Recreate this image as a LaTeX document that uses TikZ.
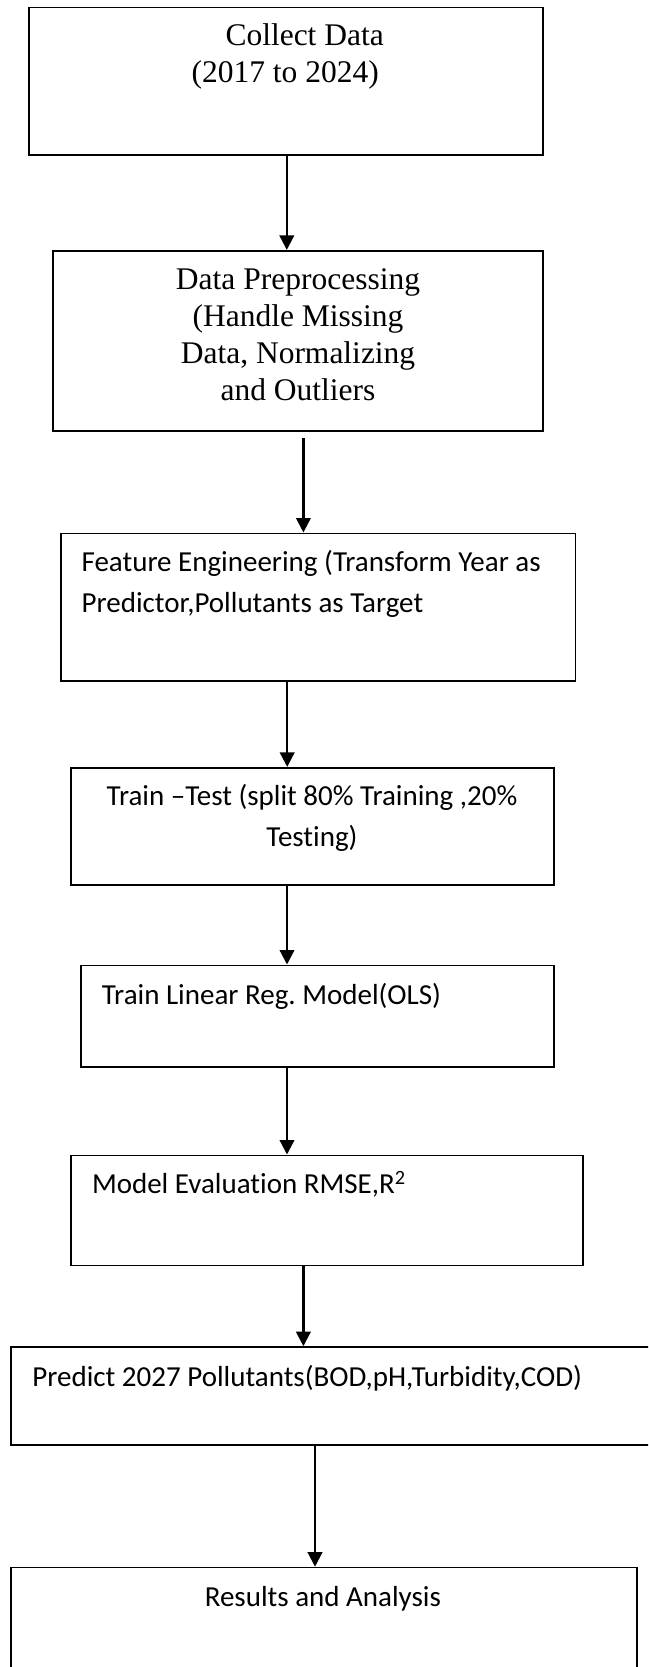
\documentclass[tikz,border=0pt]{standalone}
\usepackage{fontspec}
\setmainfont{Liberation Serif}
\newfontfamily\calib[Ligatures=NoCommon]{Carlito}
\usetikzlibrary{arrows.meta}
\frenchspacing
\tikzset{
  box/.style={draw=black, line width=1.6pt, rectangle, inner sep=0pt},
  arr/.style={draw=black, line width=2.2pt, -{Triangle[width=14.5pt,length=14.5pt]}},
  tms/.style={inner sep=0pt, font=\fontsize{31.5}{37}\selectfont},
  cal/.style={inner sep=0pt, font=\calib\frenchspacing\fontsize{29}{40.5}\selectfont},
}
\begin{document}
\begin{tikzpicture}[x=1pt,y=-1pt]
\useasboundingbox (0,0) rectangle (648,1667);
\clip (0,0) rectangle (648,1667);
\fill[white] (0,0) rectangle (648,1667);
% boxes
\node[box, minimum width=514pt, minimum height=147.5pt] (b1) at (286,81.25) {};
\node[box, minimum width=489.7pt, minimum height=180.3pt] (b2) at (297.85,340.85) {};
\node[box, minimum width=514.5pt, minimum height=147.7pt] (b3) at (318.05,607.15) {};
\node[box, minimum width=483.1pt, minimum height=117.3pt] (b4) at (312.25,826.35) {};
\node[box, minimum width=472.8pt, minimum height=101.7pt] (b5) at (317.4,1016.15) {};
\node[box, minimum width=512.5pt, minimum height=110pt] (b6) at (326.95,1210.3) {};
\node[box, minimum width=659pt, minimum height=98pt] (b7) at (340.5,1396) {};
\node[box, minimum width=625.8pt, minimum height=122.5pt] (b8) at (323.9,1628.75) {};
% texts
\node[tms, anchor=base west] (t1a) at (225.3,46) {Collect Data};
\node[tms, anchor=base west] (t1b) at (191.4,83) {(2017 to 2024)};
\node[tms, anchor=base] (t2a) at (298,289.3) {Data Preprocessing};
\node[tms, anchor=base] (t2b) at (298,326.3) {(Handle Missing};
\node[tms, anchor=base] (t2c) at (298,363.3) {Data, Normalizing};
\node[tms, anchor=base] (t2d) at (298,400.3) {and Outliers};
\node[cal, anchor=base west] (t3a) at (81.4,571.7) {Feature Engineering (Transform Year as};
\node[cal, anchor=base west] (t3b) at (81.4,612.3) {Predictor,Pollutants as Target};
\node[cal, anchor=base] (t4a) at (312,805) {Train –Test (split 80\% Training ,20\%};
\node[cal, anchor=base] (t4b) at (312,846.5) {Testing)};
\node[cal, anchor=base west] (t5) at (101.7,1004) {Train Linear Reg. Model(OLS)};
\node[cal, anchor=base west] (t6) at (91.8,1193.3) {Model Evaluation RMSE,R\textsuperscript{2}};
\node[cal, anchor=base west] (t7) at (32.2,1386) {Predict 2027 Pollutants(BOD,pH,Turbidity,COD)};
\node[cal, anchor=base west] (t8) at (204.6,1606.7) {Results and Analysis};
% arrow x positions
\coordinate (x1) at (286.8,0);
\coordinate (x2) at (303.4,0);
\coordinate (x3) at (287.2,0);
\coordinate (x4) at (287,0);
\coordinate (x5) at (287,0);
\coordinate (x6) at (303.4,0);
\coordinate (x7) at (315,0);
\draw[arr] (b1.south -| x1) -- (b2.north -| x1);
\draw[arr] ([yshift=-6pt]b2.south -| x2) -- (b3.north -| x2);
\draw[arr] (b3.south -| x3) -- (b4.north -| x3);
\draw[arr] (b4.south -| x4) -- (b5.north -| x4);
\draw[arr] (b5.south -| x5) -- (b6.north -| x5);
\draw[arr] (b6.south -| x6) -- (b7.north -| x6);
\draw[arr] (b7.south -| x7) -- (b8.north -| x7);
\end{tikzpicture}
\end{document}
